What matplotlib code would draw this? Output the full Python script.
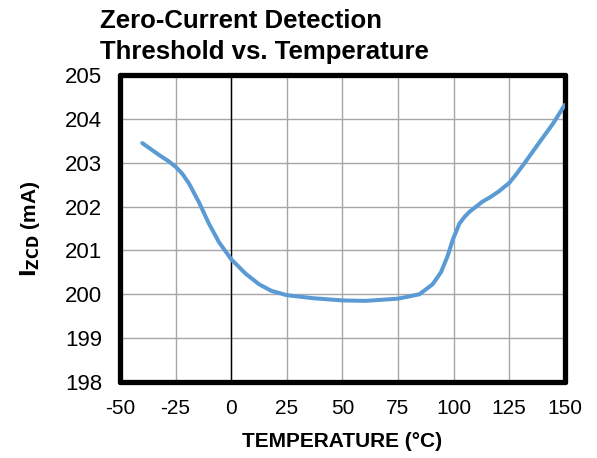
import numpy as np
import matplotlib.pyplot as plt

temp = [-40, -32.5, -28, -25, -22, -19, -14.5, -10, -5.5, 0, 6.5, 12.5, 18, 25, 37, 50, 60.4, 75, 84.6,
        90.6, 94.3, 97.3, 99.6, 102.6, 105, 107.1, 112.9, 116.6, 120.4, 125, 127.6, 131.3, 138.8, 144.8, 150]
izcd = [203.45, 203.18, 203.03, 202.91, 202.75, 202.53, 202.10, 201.61, 201.19, 200.80, 200.47, 200.23, 200.08, 199.98, 199.91, 199.86, 199.85, 199.90, 200.0,
        200.23, 200.50, 200.87, 201.24, 201.61, 201.77, 201.88, 202.11, 202.22, 202.35, 202.54, 202.70, 202.95, 203.48, 203.90, 204.32]

xticks = [-50, -25, 0, 25, 50, 75, 100, 125, 150]
yticks = [198, 199, 200, 201, 202, 203, 204, 205]

plt.rcParams['font.family'] = ['Liberation Sans', 'DejaVu Sans']
plt.rcParams['axes.unicode_minus'] = False

fig = plt.figure(figsize=(5.97, 4.58), dpi=100)
ax = fig.add_axes([0.201, 0.166, 0.745, 0.670])

ax.plot(temp, izcd, color='#5B9BD5', lw=2.9, solid_capstyle='round', solid_joinstyle='round', zorder=3)
ax.axvline(0, color='black', lw=1.0, zorder=2)

ax.set_xlim(-50, 150)
ax.set_ylim(198, 205)
ax.set_xticks(xticks)
ax.set_yticks(yticks)
ax.grid(True, color='#a6a6a6', lw=1.0)
ax.tick_params(length=0)
ax.tick_params(axis='x', labelsize=15, pad=12)
ax.tick_params(axis='y', labelsize=16, pad=13)
for s in ax.spines.values():
    s.set_linewidth(3.8)
    s.set_color('black')
    s.set_capstyle('round')

ax.set_xlabel('TEMPERATURE (°C)', fontsize=15, fontweight='bold', labelpad=10)
ax.set_ylabel(r'$\mathbf{I_{ZCD}}$ (mA)', fontsize=15, fontweight='bold', labelpad=16)

# two-line title, placed line by line
fig.text(0.168, 0.939, 'Zero-Current Detection', ha='left', va='baseline',
         fontsize=18.5, fontweight='bold')
fig.text(0.168, 0.871, 'Threshold vs. Temperature', ha='left', va='baseline',
         fontsize=18.5, fontweight='bold')

fig.savefig('out.png', dpi=100)
